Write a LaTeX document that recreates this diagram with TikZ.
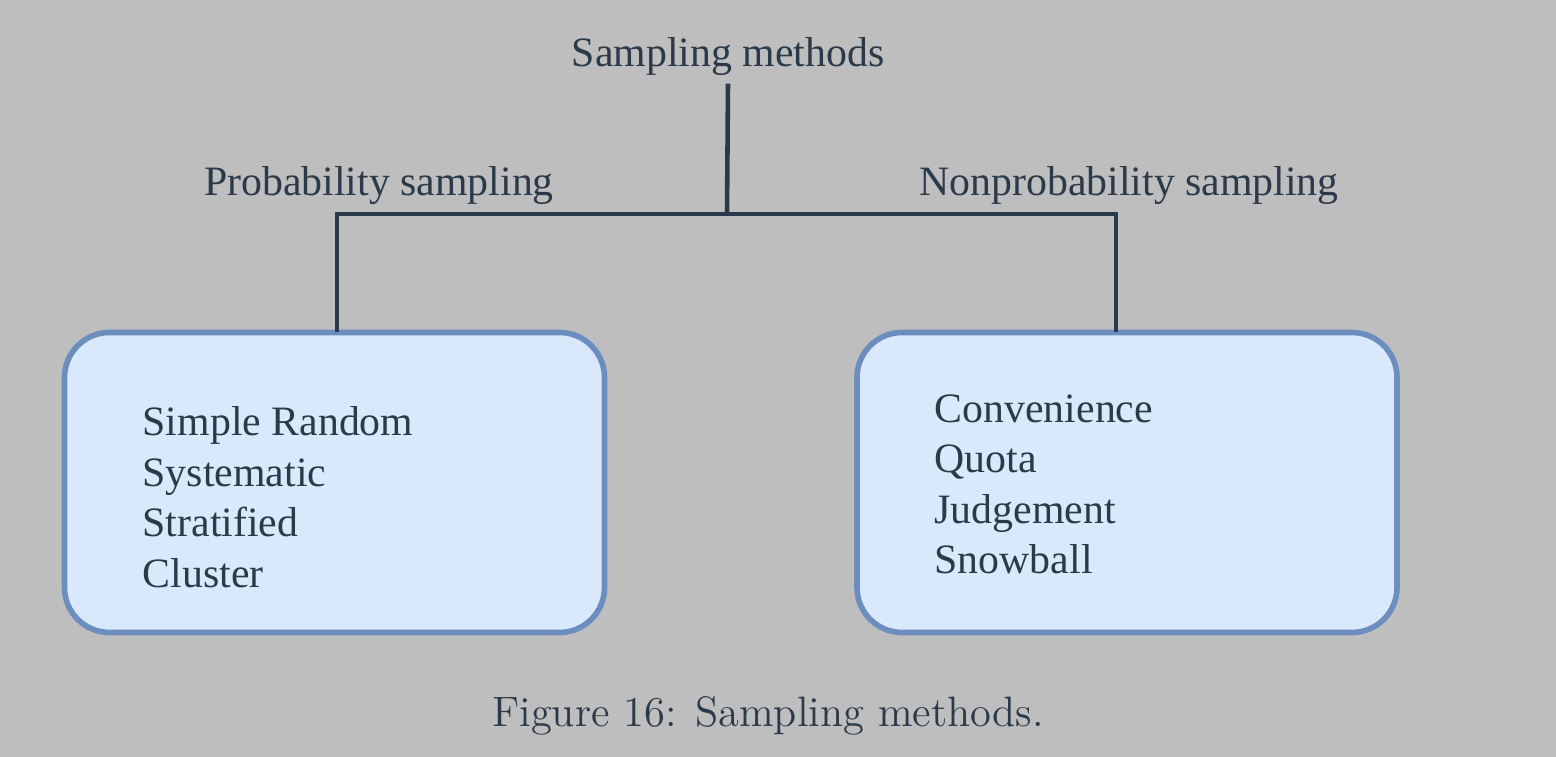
\documentclass[tikz,border=0pt]{standalone}
\usepackage{fontspec}
\newfontfamily\serifface{Liberation Serif}
\usetikzlibrary{positioning}
\definecolor{pagegray}{HTML}{BEBEBE}
\definecolor{inkblue}{HTML}{2B3A4A}
\definecolor{boxfill}{HTML}{DAE8FC}
\definecolor{boxedge}{HTML}{6C8EBF}
\tikzset{
  lbl/.style={font=\serifface\fontsize{11.9}{14.35}\selectfont,text=inkblue,inner sep=0pt},
  group/.style={draw=boxedge,fill=boxfill,line width=1.6pt,rounded corners=0.45cm,
    minimum width=5.40cm,minimum height=3.00cm,inner sep=0pt,outer sep=0pt},
  methods/.style={lbl,align=left,anchor=north west},
  tree/.style={draw=inkblue,line width=1.3pt}
}
\begin{document}
\begin{tikzpicture}
  \fill[pagegray] (0,0) rectangle (15.56,7.57);
  \useasboundingbox (0,0) rectangle (15.56,7.57);
  \node[lbl,anchor=base] (root) at (7.28,6.90) {Sampling methods};
  \node[lbl,anchor=base] (prob) at (3.79,5.61) {Probability sampling};
  \node[lbl,anchor=base] (nonprob) at (11.29,5.61) {Nonprobability sampling};
  \node[group] (probbox) at (3.345,2.745) {};
  \node[group] (nonprobbox) at (11.27,2.745) {};
  \node[methods] (problist) at (1.42,3.51) {Simple Random\\Systematic\\Stratified\\Cluster};
  \node[methods] (nonproblist) at (9.34,3.63) {Convenience\\Quota\\Judgement\\Snowball};
  \coordinate (fork) at (7.27,5.43);
  \coordinate (lfoot) at (3.37,0);
  \coordinate (rfoot) at (11.16,0);
  \draw[tree] ([yshift=-0.7mm]root.south) -- (fork);
  \draw[tree] (probbox.north -| lfoot) |- (fork) -| (nonprobbox.north -| rfoot);
  \node[text=inkblue,font=\fontsize{12.1}{14.5}\selectfont,anchor=base] (caption) at (7.68,0.30) {Figure 16: Sampling methods.};
\end{tikzpicture}
\end{document}
